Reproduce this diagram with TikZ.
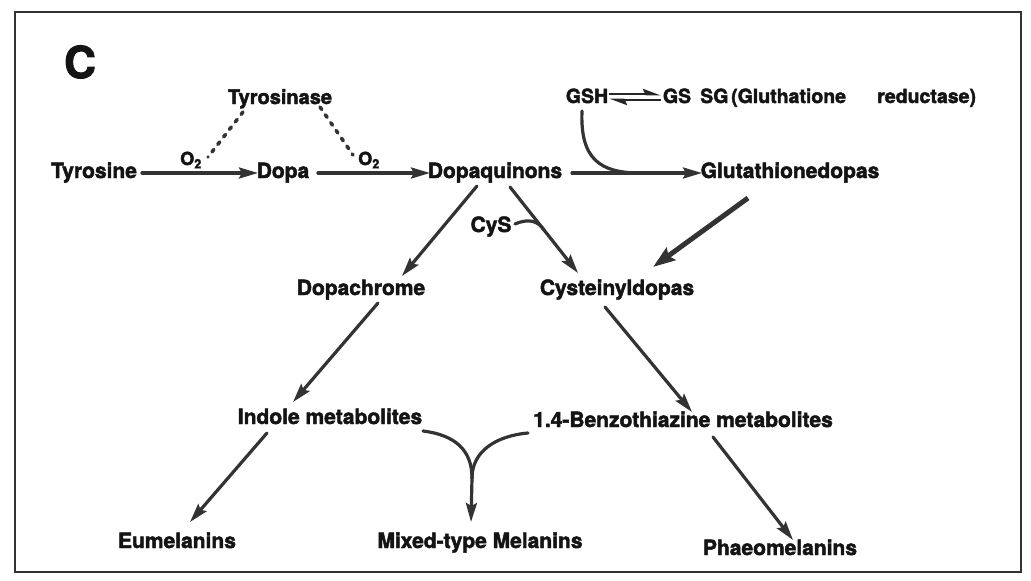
\documentclass[tikz,border=0pt]{standalone}
\usepackage{fontspec}
\setmainfont{TeX Gyre Heros}[BoldFeatures={FakeBold=2.2}]
\usetikzlibrary{arrows.meta}
\begin{document}
\begin{tikzpicture}[x=1pt,y=-1pt,
  lbl/.style={font=\bfseries\fontsize{21}{25}\selectfont, inner sep=0pt, anchor=base, text=black!92},
  gsrow/.style={font=\bfseries\fontsize{19.5}{23}\selectfont, inner sep=0pt, anchor=base, text=black!92},
  sml/.style={font=\bfseries\fontsize{18}{22}\selectfont, inner sep=0pt, anchor=base, text=black!92},
  arr/.style={line width=3.2pt, draw=black!80, line cap=round, -{Stealth[length=19pt,width=11pt,inset=3pt]}},
  thickarr/.style={line width=5pt, draw=black!80, -{Stealth[length=22pt,width=15pt,inset=3pt]}},
  plain/.style={line width=3.2pt, draw=black!80, line cap=round},
  dotline/.style={line width=3.6pt, draw=black!80, line cap=round, dash pattern=on 3pt off 6.5pt},
  harp/.style={line width=2.8pt, draw=black!85, -{Stealth[harpoon,length=14pt,width=10pt,inset=2pt]}}
]
\useasboundingbox (0,0) rectangle (1031,581);
\draw[line width=2pt, black!80] (15,12) rectangle (1021,572);

% labels
\node[lbl, font=\bfseries\fontsize{44}{50}\selectfont] (C) at (80,78) {C};
\node[lbl] (tyr) at (94,178) {Tyrosine};
\node[lbl] (dopa) at (283,178) {Dopa};
\node[lbl] (dq) at (495,178) {Dopaquinons};
\node[lbl] (glu) at (790,178) {Glutathionedopas};
\node[lbl, font=\bfseries\fontsize{20}{24}\selectfont] (tase) at (280,104) {Tyrosinase};
\node[sml] (o2a) at (191,165) {O\textsubscript{2}};
\node[sml] (o2b) at (369,165) {O\textsubscript{2}};
\node[gsrow] (gsh) at (587,103) {GSH};
\node[gsrow] (gs) at (677,103) {GS};
\node[gsrow, anchor=base west] (sg) at (700,103) {SG};
\node[gsrow, anchor=base west] (gl1) at (731,103) {(Gluthatione};
\node[gsrow, anchor=base west] (gl2) at (877,103) {reductase)};
\node[lbl] (cys) at (491,232) {CyS};
\node[lbl] (dc) at (361,295) {Dopachrome};
\node[lbl] (cd) at (617,295) {Cysteinyldopas};
\node[lbl] (ind) at (330,424) {Indole metabolites};
\node[lbl] (bz) at (683,427) {1.4-Benzothiazine metabolites};
\node[lbl] (eu) at (177,548) {Eumelanins};
\node[lbl] (mix) at (480,548) {Mixed-type Melanins};
\node[lbl] (ph) at (780,555) {Phaeomelanins};

% horizontal arrows
\draw[arr] ([shift={(48,-5)}]tyr.base) -- ([shift={(-25,-5)}]dopa.base);
\draw[arr] ([shift={(35,-5)}]dopa.base) -- ([shift={(-65,-5)}]dq.base);
\draw[arr] ([shift={(77,-5)}]dq.base) -- ([shift={(-88,-5)}]glu.base);

% tyrosinase dotted lines
\draw[dotline] ([shift={(-37,8)}]tase.base) -- ([shift={(17,-8)}]o2a.base);
\draw[dotline] ([shift={(40,3)}]tase.base) -- ([shift={(-16,-10)}]o2b.base);

% GSH harpoons
\draw[harp] ([shift={(22,-9)}]gsh.base) -- ([shift={(-16,-9)}]gs.base);
\draw[harp] ([shift={(-16,-3)}]gs.base) -- ([shift={(22,-3)}]gsh.base);

% GSH curve joining the arrow
\draw[plain] ([shift={(-5,8)}]gsh.base) .. controls +(-2,48) and +(-40,0) .. ([shift={(145,-5)}]dq.base);

% diagonals from Dopaquinons
\draw[arr] ([shift={(-18,8)}]dq.base) -- ([shift={(41,-19)}]dc.base);
\draw[arr] ([shift={(15,9)}]dq.base) -- ([shift={(-39,-22)}]cd.base);
\draw[plain] ([shift={(24,-8)}]cys.base) .. controls +(14,-6) and +(-6,-9) .. ([shift={(49,52)}]dq.base);

% Glutathionedopas to Cysteinyldopas
\draw[thickarr] ([shift={(-42,20)}]glu.base) -- ([shift={(36,-28)}]cd.base);

% lower diagonals
\draw[arr] ([shift={(17,8)}]dc.base) -- ([shift={(-37,-22)}]ind.base);
\draw[arr] ([shift={(-12,12)}]cd.base) -- ([shift={(9,-15)}]bz.base);
\draw[arr] ([shift={(-63,9)}]ind.base) -- ([shift={(13,-26)}]eu.base);
\draw[arr] ([shift={(30,10)}]bz.base) -- ([shift={(13,-15)}]ph.base);

% merge to mixed-type
\coordinate (junc) at ([shift={(-8,-70)}]mix.base);
\draw[plain] ([shift={(93,7)}]ind.base) .. controls +(32,4) and +(0,-28) .. (junc);
\draw[plain] ([shift={(-155,6)}]bz.base) .. controls +(-33,3) and +(0,-26) .. (junc);
\draw[arr] (junc) -- ([shift={(-9,-26)}]mix.base);
\end{tikzpicture}
\end{document}
